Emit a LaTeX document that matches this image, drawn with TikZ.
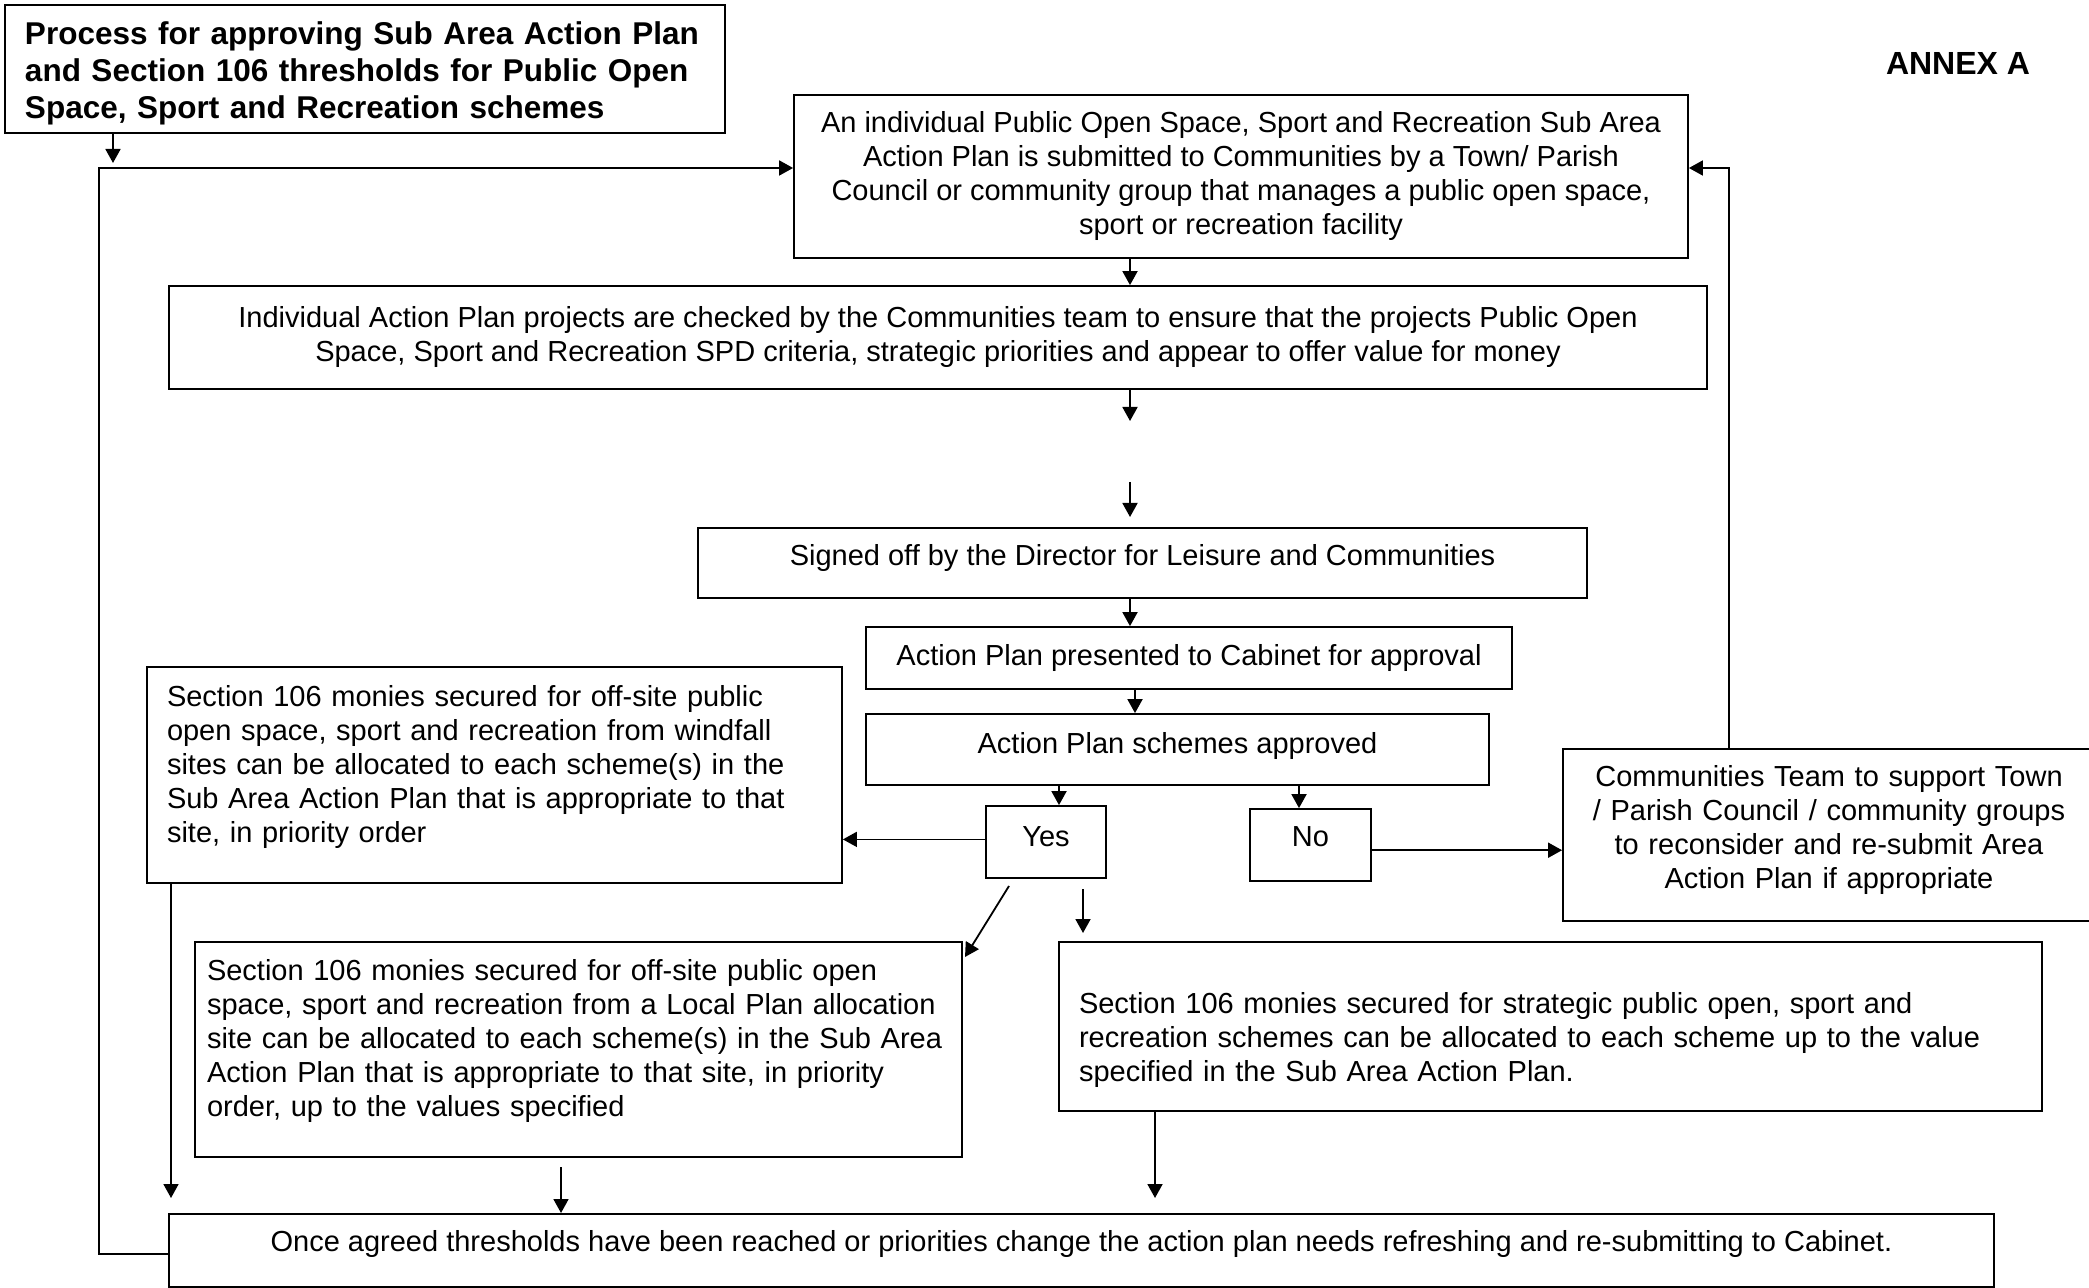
\documentclass[tikz,border=0pt]{standalone}
\usepackage{fontspec}
\setmainfont{Liberation Sans}
\usetikzlibrary{arrows.meta,calc}

% invisible struts to push box text up or down
\newcommand\toppad[1]{\rule{0pt}{#1}}
\newcommand\botpad[1]{\rule[-#1]{0pt}{#1}}

\tikzset{
  box/.style={draw, line width=0.9pt, inner xsep=10pt, inner ysep=4pt, font=\fontsize{14.5}{17}\selectfont},
  cbox/.style={box, align=center},
  lbox/.style={box, align=left},
  arr/.style={-{Triangle[length=7pt,width=7.5pt]}, line width=0.9pt},
}

\begin{document}
\begin{tikzpicture}[x=0.5pt,y=-0.5pt]
\useasboundingbox (0,0) rectangle (2089,1288);
% heading
\node[lbox, text width=340pt, minimum height=64pt, font=\fontsize{15.75}{18.5}\selectfont\bfseries] (title) at (365,69) {\toppad{15.5pt}Process for approving Sub Area Action Plan\\and Section 106 thresholds for Public Open\\Space, Sport and Recreation schemes};
\node[font=\fontsize{16}{18}\selectfont\bfseries] (annex) at (1958,63) {ANNEX A};
% main column
\node[cbox, minimum width=447pt, minimum height=81.5pt] (submit) at (1241,176.5) {An individual Public Open Space, Sport and Recreation Sub Area\\Action Plan is submitted to Communities by a Town/ Parish\\Council or community group that manages a public open space,\\sport or recreation facility};
\node[cbox, minimum width=769pt, minimum height=51.5pt] (check) at (938,337.5) {Individual Action Plan projects are checked by the Communities team to ensure that the projects Public Open\\Space, Sport and Recreation SPD criteria, strategic priorities and appear to offer value for money};
\node[cbox, minimum width=444.5pt, minimum height=35pt] (signed) at (1142.5,563) {Signed off by the Director for Leisure and Communities\botpad{8.4pt}};
\node[cbox, minimum width=323pt, minimum height=31pt] (cabinet) at (1189,658) {Action Plan presented to Cabinet for approval};
\node[cbox, minimum width=311.5pt, minimum height=35.5pt] (approved) at (1177.5,749.5) {Action Plan schemes approved\botpad{7pt}};
\node[cbox, minimum width=60pt, minimum height=36pt] (yes) at (1046,842) {Yes\botpad{5.5pt}};
\node[cbox, minimum width=60.5pt, minimum height=36pt] (no) at (1310.5,845) {No\botpad{8.2pt}};
% outcome boxes
\node[lbox, text width=327.5pt, minimum height=108pt] (windfall) at (494.5,775) {Section 106 monies secured for off-site public\\open space, sport and recreation from windfall\\sites can be allocated to each scheme(s) in the\\Sub Area Action Plan that is appropriate to that\\site, in priority order\botpad{11pt}};
\node[cbox, text width=246pt, minimum width=266pt, minimum height=86pt] (team) at (1829,835) {Communities Team to support Town\\/ Parish Council / community groups\\to reconsider and re-submit Area\\Action Plan if appropriate\botpad{8.4pt}};
\node[lbox, inner xsep=6pt, text width=371.5pt, minimum height=107.5pt] (local) at (578.5,1049.5) {Section 106 monies secured for off-site public open\\space, sport and recreation from a Local Plan allocation\\site can be allocated to each scheme(s) in the Sub Area\\Action Plan that is appropriate to that site, in priority\\order, up to the values specified\botpad{11.7pt}};
\node[lbox, text width=471.5pt, minimum height=84.5pt] (strategic) at (1550.5,1026.5) {\toppad{24pt}Section 106 monies secured for strategic public open, sport and\\recreation schemes can be allocated to each scheme up to the value\\specified in the Sub Area Action Plan.};
\node[cbox, minimum width=912.5pt, minimum height=36.5pt] (bottom) at (1081.5,1250.5) {Once agreed thresholds have been reached or priorities change the action plan needs refreshing and re-submitting to Cabinet.\botpad{9.7pt}};
% helper points
\coordinate (axis) at (1130,0);
\coordinate (axisB) at (1135,0);
\coordinate (yesx) at (1059,0);
\coordinate (nox) at (1299,0);
\coordinate (ttip) at (113,163);
\coordinate (fbL) at (99,168);
\coordinate (fbR) at (1729,168);
\coordinate (gapA) at (1130,421);
\coordinate (gapB) at (1130,482);
\coordinate (gapC) at (1130,517);
\coordinate (diagA) at (1009,886);
\coordinate (diagB) at (965,957);
\coordinate (stratA) at (1083,889);
\coordinate (stratB) at (1083,933);
\coordinate (wfx) at (171,1198);
\coordinate (locA) at (561,1167);
\coordinate (locB) at (561,1213);
\coordinate (stx) at (1155,1198);
% connectors
\draw[arr] (title.south -| ttip) -- (ttip);
\draw[arr] ([yshift=-1.75pt]bottom.west) -| (fbL) -- (fbL -| submit.west);
\draw[arr] (team.north -| fbR) -- (fbR) -- (fbR -| submit.east);
\draw[arr] (submit.south -| axis) -- (check.north -| axis);
\draw[arr] (check.south -| axis) -- (gapA);
\draw[arr] (gapB) -- (gapC);
\draw[arr] (signed.south -| axis) -- (cabinet.north -| axis);
\draw[arr] (cabinet.south -| axisB) -- (approved.north -| axisB);
\draw[arr] (approved.south -| yesx) -- (yes.north -| yesx);
\draw[arr] (approved.south -| nox) -- (no.north -| nox);
\draw[arr] ([yshift=1.3pt]yes.west) -- ([yshift=1.3pt]yes.west -| windfall.east);
\draw[arr] ([yshift=-2.6pt]no.east) -- ([yshift=-2.6pt]no.east -| team.west);
\draw[arr] (diagA) -- (diagB);
\draw[arr] (stratA) -- (stratB);
\draw[arr] (windfall.south -| wfx) -- (wfx);
\draw[arr] (locA) -- (locB);
\draw[arr] (strategic.south -| stx) -- (stx);
\end{tikzpicture}
\end{document}
